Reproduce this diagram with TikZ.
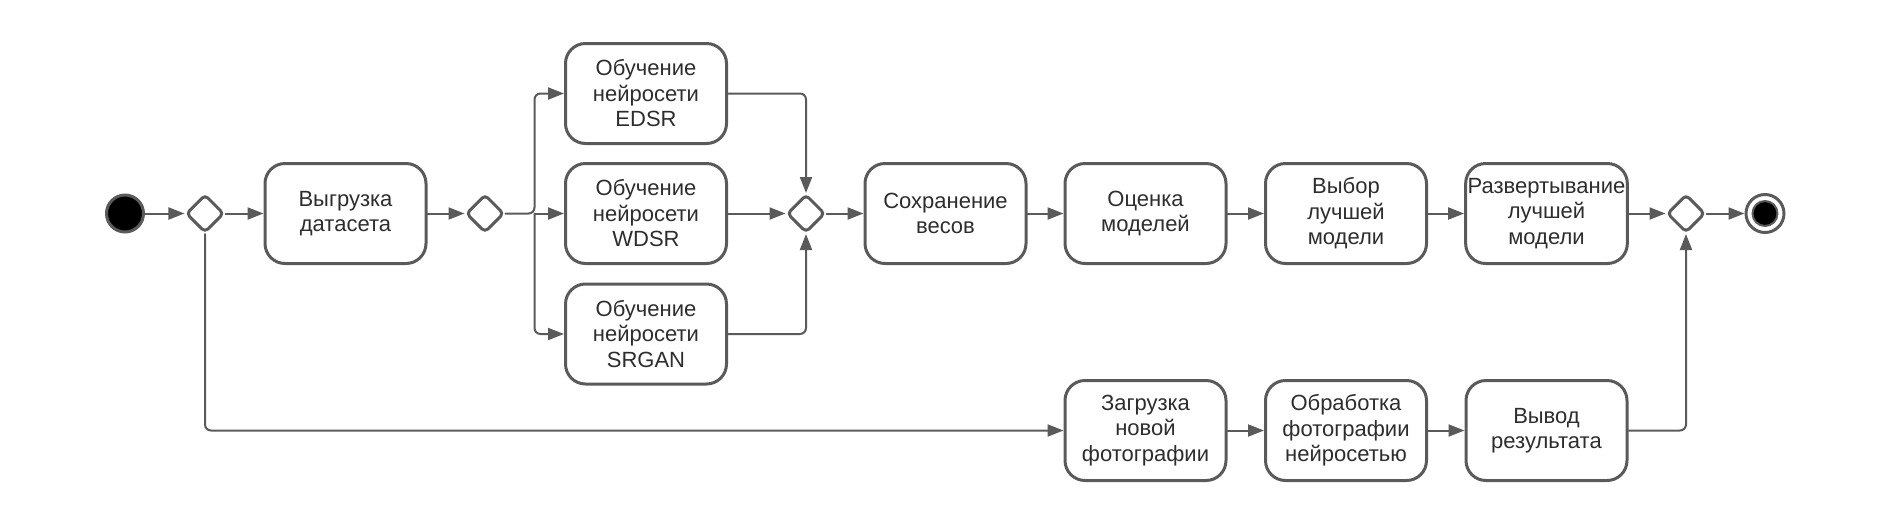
\documentclass[tikz,border=0pt]{standalone}
\usepackage{fontspec}
\setmainfont{Liberation Sans}
\usetikzlibrary{shapes.geometric,arrows.meta}
\definecolor{linegray}{RGB}{90,90,90}
\definecolor{textgray}{RGB}{45,45,45}
\begin{document}
\begin{tikzpicture}[x=0.5pt,y=-0.5pt,>={Triangle[length=8pt,width=6pt]},
    font=\fontsize{11}{12.75}\selectfont, line join=round, line cap=round,
    act/.style={draw=linegray,line width=1.5pt,rounded corners=10pt,minimum width=80.5pt,
        minimum height=50pt,align=center,text=textgray,inner sep=1pt},
    dec/.style={draw=linegray,line width=1.5pt,diamond,aspect=1,minimum size=19pt,
        inner sep=0pt,rounded corners=2pt},
    flow/.style={->,draw=linegray,line width=1pt,rounded corners=3pt}]
    \def\ytop{213.5} \def\ybot{430.5} % rows
    \useasboundingbox (0,0) rectangle (1892,526);
    % nodes
    \node[circle,fill=black,draw=linegray,line width=1.5pt,minimum size=18.5pt,inner sep=0pt] (start) at (125,\ytop) {};
    \node[dec] (d1) at (205,\ytop) {};
    \node[act] (vygr) at (345.5,\ytop) {Выгрузка\\датасета};
    \node[dec] (d2) at (485,\ytop) {};
    \coordinate (br) at (534.5,\ytop);
    \node[act] (edsr) at (646,93.5) {Обучение\\нейросети\\EDSR};
    \node[act] (wdsr) at (646,\ytop) {Обучение\\нейросети\\WDSR};
    \node[act] (srgan) at (646,334) {Обучение\\нейросети\\SRGAN};
    \node[dec] (d3) at (806,\ytop) {};
    \node[act] (sokhr) at (945.5,\ytop) {Сохранение\\весов};
    \node[act] (otsen) at (1145.5,\ytop) {Оценка\\моделей};
    \node[act] (vybor) at (1346,\ytop) {Выбор\\лучшей\\модели};
    \node[act] (razv) at (1546.5,\ytop) {Развертывание\\лучшей\\модели};
    \node[dec] (d4) at (1686,\ytop) {};
    \node[circle,draw=linegray,line width=1.5pt,minimum size=19pt,inner sep=0pt] (fin) at (1765,\ytop) {};
    \node[circle,fill=black,draw=linegray,line width=1pt,minimum size=12.5pt,inner sep=0pt] (finin) at (fin) {};
    \node[act] (zagr) at (1145.5,\ybot) {Загрузка\\новой\\фотографии};
    \node[act] (obrab) at (1346,\ybot) {Обработка\\фотографии\\нейросетью};
    \node[act] (vyvod) at (1546.5,\ybot) {Вывод\\результата};
    % connectors
    \draw[flow] (start) -- (d1);
    \draw[flow] (d1) -- (vygr);
    \draw[flow] (vygr) -- (d2);
    \draw[flow] (d2) -- (br) |- (edsr);
    \draw[flow] (br) -- (wdsr);
    \draw[flow] (br) |- (srgan);
    \draw[flow] (edsr) -| (d3);
    \draw[flow] (wdsr) -- (d3);
    \draw[flow] (srgan) -| (d3);
    \draw[flow] (d3) -- (sokhr);
    \draw[flow] (sokhr) -- (otsen);
    \draw[flow] (otsen) -- (vybor);
    \draw[flow] (vybor) -- (razv);
    \draw[flow] (razv) -- (d4);
    \draw[flow] (d4) -- (fin);
    \draw[flow] (d1) |- (zagr);
    \draw[flow] (zagr) -- (obrab);
    \draw[flow] (obrab) -- (vyvod);
    \draw[flow] (vyvod) -| (d4);
\end{tikzpicture}
\end{document}
